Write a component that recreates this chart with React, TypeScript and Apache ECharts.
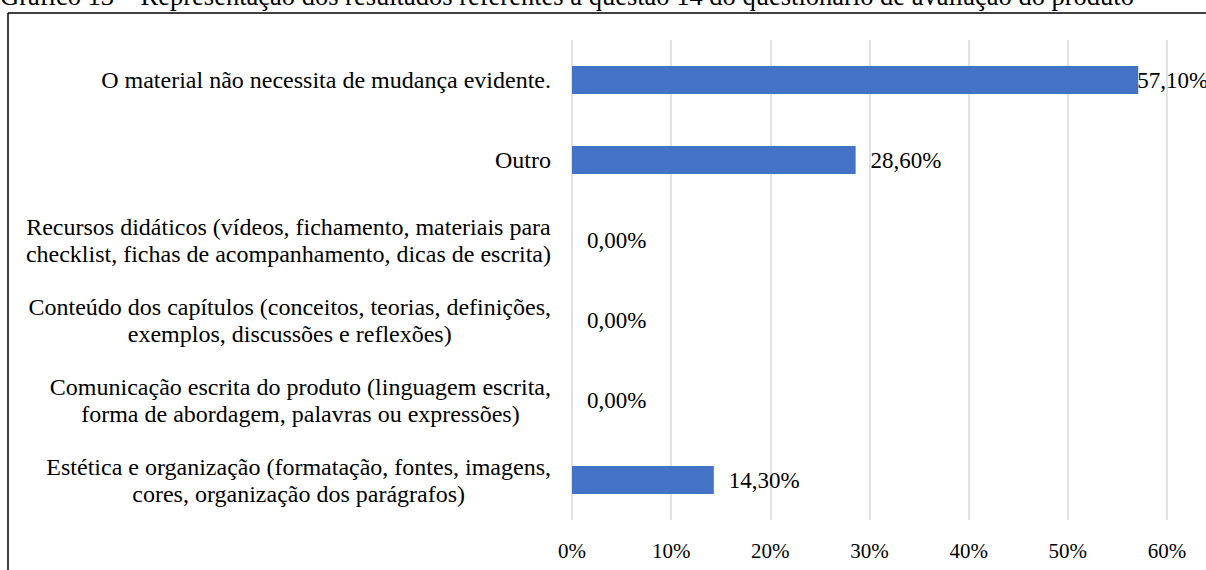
import React, { useEffect, useRef } from "react";
import * as echarts from "echarts";

const TITLE =
  "Gráfico 13 – Representação dos resultados referentes à questão 14 do questionário de avaliação do produto";

const categories: string[] = [
  "O material não necessita de mudança evidente.",
  "Outro",
  "Recursos didáticos (vídeos, fichamento, materiais para\nchecklist, fichas de acompanhamento, dicas de escrita)",
  "Conteúdo dos capítulos (conceitos, teorias, definições,\nexemplos, discussões e reflexões)",
  "Comunicação escrita do produto (linguagem escrita,\nforma de abordagem, palavras ou expressões)",
  "Estética e organização (formatação, fontes, imagens,\ncores, organização dos parágrafos)",
];

const values: number[] = [57.1, 28.6, 0, 0, 0, 14.3];

const xTicks = { min: 0, max: 60, interval: 10 };

const FONT = "Liberation Serif";

export default function App() {
  const ref = useRef<HTMLDivElement>(null);

  useEffect(() => {
    if (!ref.current) return;
    const chart = echarts.init(ref.current, undefined, { renderer: "svg" });

    const seriesData = values.map((v, i) => {
      if (i === 0) {
        return { value: v, label: { distance: -1 } };
      }
      return { value: v };
    });

    chart.setOption({
      animation: false,
      backgroundColor: "#ffffff",
      textStyle: { fontFamily: FONT },
      grid: { left: 572, right: 39, top: 40, bottom: 50, containLabel: false },
      xAxis: {
        type: "value",
        min: xTicks.min,
        max: xTicks.max,
        interval: xTicks.interval,
        axisLine: { show: false },
        axisTick: { show: false },
        splitLine: { show: true, lineStyle: { color: "#d9d9d9", width: 1.5 } },
        axisLabel: {
          formatter: "{value}%",
          color: "#000000",
          fontFamily: FONT,
          fontSize: 21,
          margin: 20,
        },
      },
      yAxis: {
        type: "category",
        data: categories,
        inverse: true,
        axisLine: { show: false },
        axisTick: { show: false },
        splitLine: { show: false },
        axisLabel: {
          margin: 21,
          color: "#000000",
          fontFamily: FONT,
          fontSize: 24,
          lineHeight: 27,
          formatter: (val: string) =>
            val
              .split("\n")
              .map((l) => `{c|${l}}`)
              .join("\n"),
          rich: {
            c: {
              align: "center",
              fontFamily: FONT,
              fontSize: 24,
              lineHeight: 27,
              color: "#000000",
            },
          },
        },
      },
      series: [
        {
          type: "bar",
          data: seriesData,
          barWidth: 28,
          itemStyle: { color: "#4472C4" },
          label: {
            show: true,
            position: "right",
            distance: 15,
            color: "#000000",
            fontFamily: FONT,
            fontSize: 23,
            formatter: (p: any) =>
              Number(p.value).toFixed(2).replace(".", ",") + "%",
          },
        },
      ],
      graphic: [
        {
          type: "text",
          left: 0,
          top: -18,
          style: {
            text: TITLE,
            fill: "#000000",
            fontFamily: FONT,
            fontSize: 26.5,
          },
        },
        {
          type: "line",
          shape: { x1: 8, y1: 13, x2: 1206, y2: 13 },
          style: { stroke: "#000000", lineWidth: 1.5 },
        },
        {
          type: "line",
          shape: { x1: 8, y1: 13, x2: 8, y2: 570 },
          style: { stroke: "#000000", lineWidth: 1.5 },
        },
      ],
    });

    return () => chart.dispose();
  }, []);

  return (
    <div
      ref={ref}
      style={{
        position: "fixed",
        left: 0,
        top: 0,
        width: 1206,
        height: 570,
      }}
    />
  );
}
